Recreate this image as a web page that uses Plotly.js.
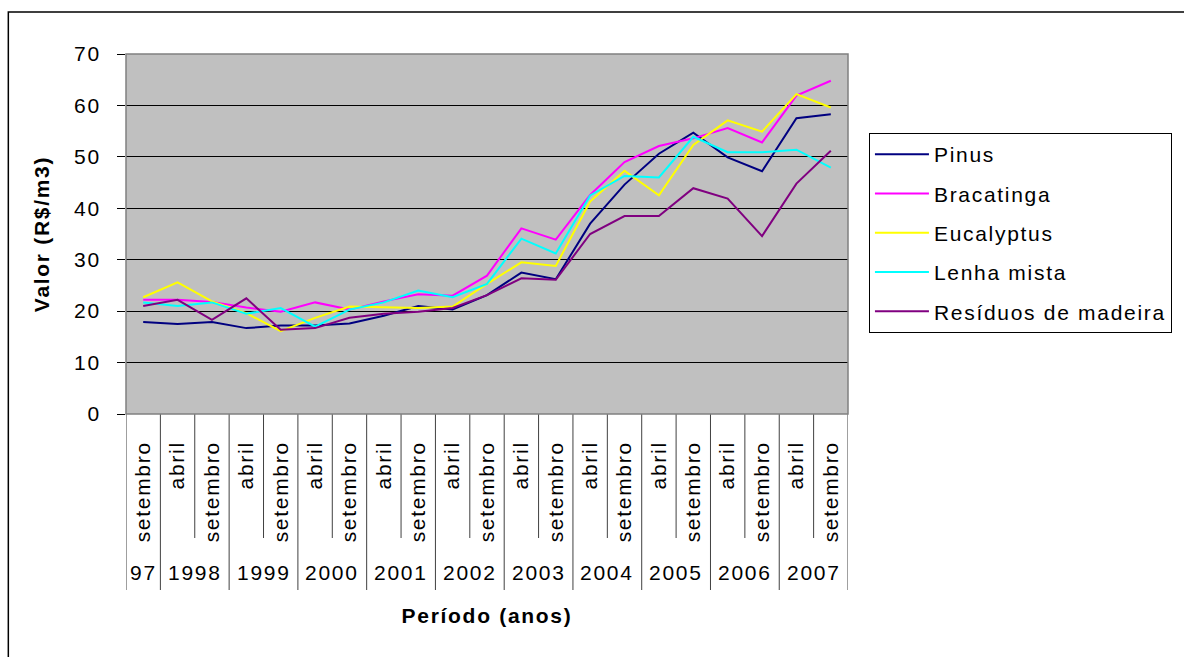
<!DOCTYPE html>
<html>
<head>
<meta charset="utf-8">
<script src="https://cdn.plot.ly/plotly-3.0.1.min.js"></script>
<style>
html,body{margin:0;padding:0;background:#fff;}
#chart{width:1184px;height:657px;}
svg text{letter-spacing:1.7px;}
</style>
</head>
<body>
<div id="chart"></div>
<script>
// Period labels (month, year group)
const periodMonth = ['setembro','abril','setembro','abril','setembro','abril','setembro','abril','setembro','abril','setembro','abril','setembro','abril','setembro','abril','setembro','abril','setembro','abril','setembro'];
const periodYear  = ['97','1998','1998','1999','1999','2000','2000','2001','2001','2002','2002','2003','2003','2004','2004','2005','2005','2006','2006','2007','2007'];
const yearLabels  = ['97','1998','1999','2000','2001','2002','2003','2004','2005','2006','2007'];

// Series values (R$/m3)
const pinus      = [17.9,17.5,17.9,16.7,17.2,17.2,17.6,19.1,21.0,20.3,23.1,27.5,26.2,37.0,44.6,50.6,54.7,49.9,47.2,57.5,58.3];
const bracatinga = [22.2,22.2,21.8,20.7,19.9,21.7,20.3,21.9,23.3,23.0,26.9,36.1,33.9,42.6,49.0,52.1,53.6,55.6,52.8,61.9,64.8];
const eucalyptus = [22.7,25.6,21.9,19.6,16.1,18.7,20.9,20.8,20.6,20.9,25.3,29.5,28.8,41.3,47.3,42.5,52.3,57.1,54.9,62.2,59.6];
const lenhaMista = [21.7,21.0,21.7,19.5,20.6,17.0,20.3,21.7,24.0,22.7,25.3,34.1,31.2,42.5,46.3,46.0,53.9,50.9,50.9,51.4,47.9];
const residuos   = [21.0,22.2,18.3,22.5,16.4,16.7,18.7,19.5,19.9,20.6,23.1,26.4,26.1,35.0,38.5,38.5,43.9,41.9,34.6,44.8,51.2];

const seriesNames  = ['Pinus','Bracatinga','Eucalyptus','Lenha mista','Resíduos de madeira'];
const seriesValues = [pinus, bracatinga, eucalyptus, lenhaMista, residuos];
const seriesColors = ['#000080','#FF00FF','#FFFF00','#00FFFF','#800080'];

const periods = periodMonth.map((m,i) => m + ' ' + periodYear[i]);

const FONT = '"Liberation Sans", Arial, sans-serif';

const traces = seriesNames.map((name,k) => ({
  type: 'scatter',
  mode: 'lines',
  name: name,
  x: periods,
  y: seriesValues[k],
  line: {color: seriesColors[k], width: 2},
  legendgroup: 'g' + k
}));

// Plot geometry (pixels)
const W = 1184, H = 657;
const mL = 126, mR = W - 850, mT = 54, mB = H - 414;
const plotH = H - mT - mB;
const pw = W - mL - mR;
const py = px => (H - mB - px) / plotH;   // pixel y -> paper y
const pxp = px => (px - mL) / pw;          // pixel x -> paper x

// Category boundary lines and year labels
const shapes = [];
for (let i = 0; i <= periods.length; i++) {
  const b = i - 0.5;
  const isYearEdge = (i === 0 || i === periods.length || periodYear[i] !== periodYear[i-1]);
  shapes.push({
    type: 'line', xref: 'x', yref: 'paper',
    x0: b, x1: b, y0: 0, y1: py(isYearEdge ? 590 : 538),
    line: {color: '#404040', width: 1}
  });
}
// Outer chart border
shapes.push({
  type: 'rect', xref: 'paper', yref: 'paper', layer: 'above',
  x0: pxp(8), x1: pxp(1300), y0: py(800), y1: py(12),
  line: {color: '#000000', width: 1.5}
});
// Plot area frame
shapes.push({
  type: 'rect', xref: 'paper', yref: 'paper', layer: 'above',
  x0: 0, x1: 1, y0: 0, y1: 1,
  line: {color: '#808080', width: 1.5}
});

const annotations = yearLabels.map(yr => {
  const idx = periodYear.map((v,i) => v === yr ? i : -1).filter(i => i >= 0);
  const center = (idx[0] + idx[idx.length-1]) / 2;
  return {
    xref: 'x', yref: 'paper', x: center, y: py(572),
    text: yr, showarrow: false, xanchor: 'center', yanchor: 'middle',
    font: {family: FONT, size: 21, color: '#000'}
  };
});

const layout = {
  width: W, height: H,
  margin: {l: mL, r: mR, t: mT, b: mB, pad: 0},
  paper_bgcolor: '#FFFFFF',
  plot_bgcolor: '#C0C0C0',
  font: {family: FONT, size: 21, color: '#000'},
  showlegend: true,
  legend: {
    x: pxp(871), y: py(133), xanchor: 'left', yanchor: 'top',
    bordercolor: '#000', borderwidth: 1, bgcolor: '#FFFFFF',
    font: {family: FONT, size: 21, color: '#000'},
    tracegroupgap: 9, itemwidth: 54
  },
  xaxis: {
    type: 'category',
    range: [-0.5, periods.length - 0.5],
    tickmode: 'array', tickvals: periods, ticktext: periodMonth,
    tickangle: -90,
    ticks: '', showgrid: false, zeroline: false, showline: false,
    ticklabelstandoff: 22,
    tickfont: {family: FONT, size: 21, color: '#000'},
    title: {text: '<b>Período (anos)</b>', font: {family: FONT, size: 21, color: '#000'}, standoff: 66},
    fixedrange: true
  },
  yaxis: {
    range: [0, 70], dtick: 10, tick0: 0,
    showgrid: true, gridcolor: '#000000', gridwidth: 1,
    zeroline: false, showline: false,
    ticks: 'outside', ticklen: 8, tickcolor: '#000', tickwidth: 1,
    ticklabelstandoff: 12,
    tickfont: {family: FONT, size: 21, color: '#000'},
    title: {text: '<b>Valor (R$/m3)</b>', font: {family: FONT, size: 21, color: '#000'}, standoff: 18},
    fixedrange: true
  },
  shapes: shapes,
  annotations: annotations
};

Plotly.newPlot('chart', traces, layout, {displayModeBar: false, staticPlot: true});
</script>
</body>
</html>
